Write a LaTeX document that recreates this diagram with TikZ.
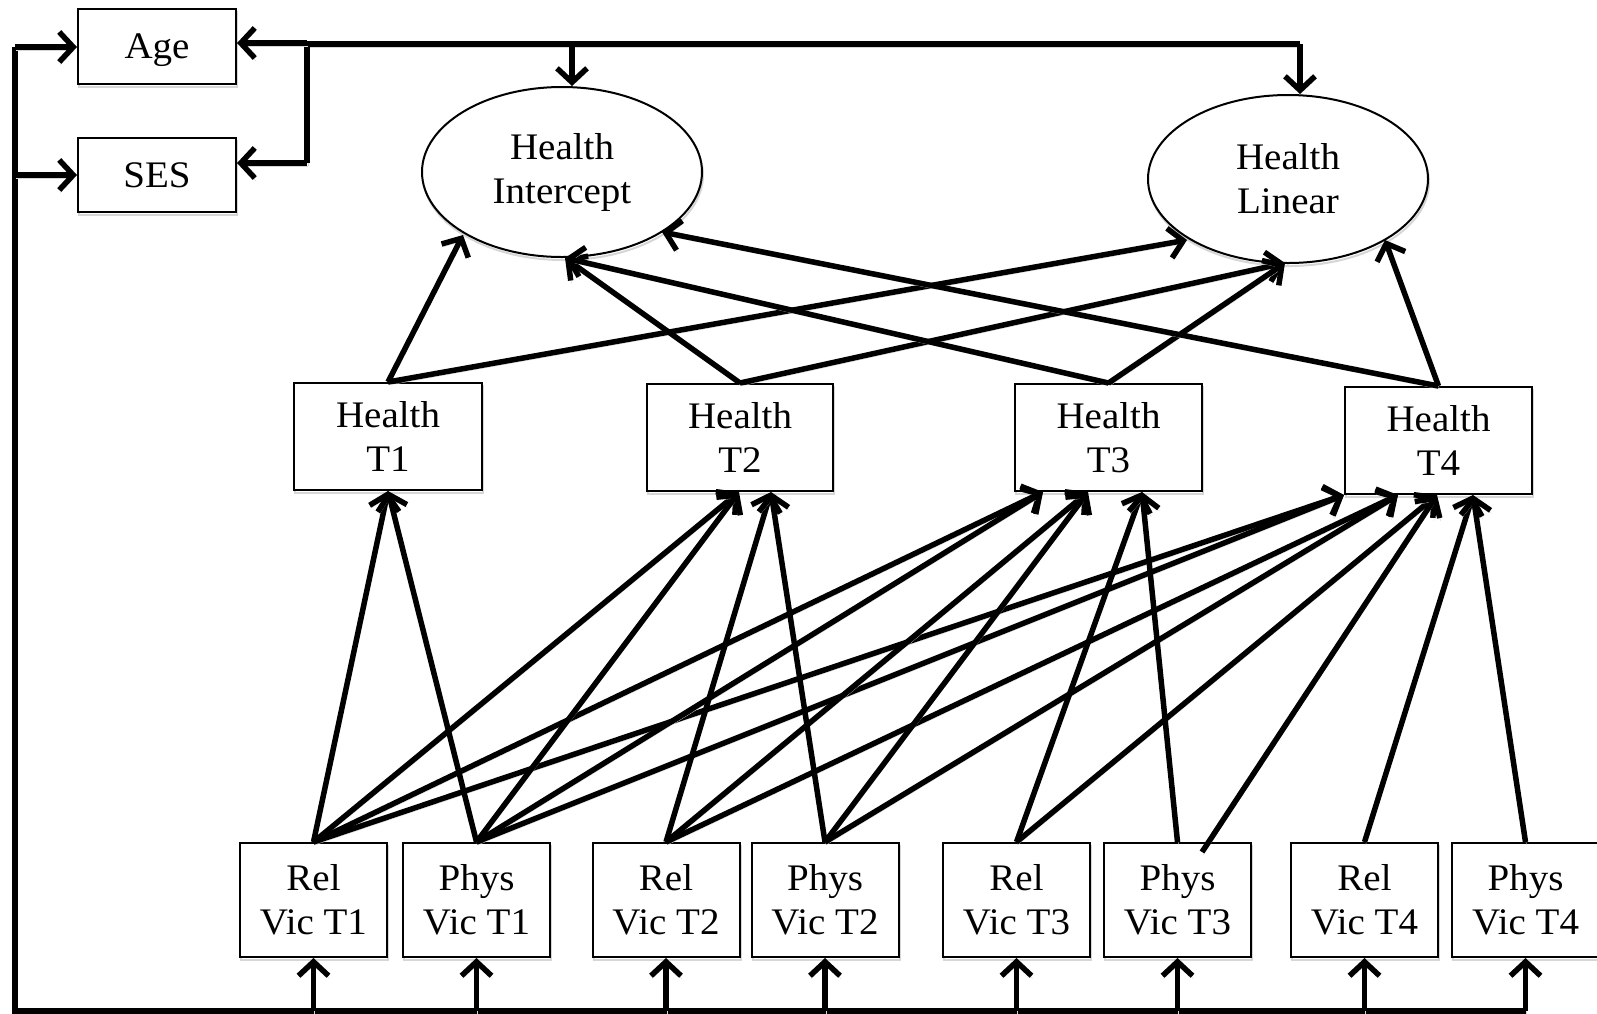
\documentclass[tikz,border=0pt]{standalone}
\usepackage{fontspec}
\setmainfont[FakeStretch=1.04]{Liberation Serif}
\usetikzlibrary{arrows.meta,calc,shapes.geometric}

\begin{document}
\begin{tikzpicture}[x=1pt,y=-1pt,
  shade/.style={preaction={draw=black!16, transform canvas={shift={(1pt,-3pt)}}}},
  lbl/.style={font=\fontsize{37.5}{44}\selectfont, align=center, inner sep=0pt},
  box/.style={lbl, rectangle, draw, line width=2pt, fill=white, shade},
  latent/.style={lbl, ellipse, draw, line width=2pt, fill=white, shade},
  wire/.style={line width=5.5pt, shade},
  arr/.style={wire, -{Straight Barb[length=14pt,width=30pt]}},
]
\useasboundingbox (0,0) rectangle (1597,1013);

% covariates
\node[box, minimum width=158pt, minimum height=75pt, text depth=0pt] (age) at (157,46) {Age};
\node[box, minimum width=158pt, minimum height=74pt] (ses) at (157,175) {SES};

% growth factors
\node[latent, minimum width=280pt, minimum height=170pt] (hint) at (562,172) {Health\\Intercept};
\node[latent, minimum width=280pt, minimum height=168pt] (hlin) at (1288,179) {Health\\Linear};

% repeated health measures
\node[box, minimum width=188pt, minimum height=107pt] (h1) at (388,436.5) {Health\\T1};
\node[box, minimum width=186pt, minimum height=107pt] (h2) at (740,437.5) {Health\\T2};
\node[box, minimum width=187pt, minimum height=107pt] (h3) at (1108.5,437.5) {Health\\T3};
\node[box, minimum width=187pt, minimum height=107pt] (h4) at (1438.5,440.5) {Health\\T4};

% victimization measures
\tikzset{vic/.style={box, minimum width=147pt, minimum height=114pt}}
\node[vic] (r1) at (313.5,900) {Rel\\Vic T1};
\node[vic] (p1) at (476.5,900) {Phys\\Vic T1};
\node[vic] (r2) at (666,900) {Rel\\Vic T2};
\node[vic] (p2) at (825,900) {Phys\\Vic T2};
\node[vic] (r3) at (1016.5,900) {Rel\\Vic T3};
\node[vic] (p3) at (1177.5,900) {Phys\\Vic T3};
\node[vic] (r4) at (1364.5,900) {Rel\\Vic T4};
\node[vic] (p4) at (1525.5,900) {Phys\\Vic T4};

% arrow landing points on the health boxes
\coordinate (h1a) at (h1.south);
\coordinate (h2a) at ($(h2.south)+(-1,0)$);
\coordinate (h2b) at ($(h2.south)+(31,0)$);
\coordinate (h3a) at ($(h3.south)+(-65.5,0)$);
\coordinate (h3b) at ($(h3.south)+(-20.5,0)$);
\coordinate (h3c) at ($(h3.south)+(33.5,0)$);
\coordinate (h4a) at (h4.south west);
\coordinate (h4b) at ($(h4.south)+(-40.5,0)$);
\coordinate (h4c) at ($(h4.south)+(-1.5,0)$);
\coordinate (h4d) at ($(h4.south)+(34.5,0)$);
\coordinate (p3x) at ($(p3.north)+(24.5,10)$);

% victimization -> health
\foreach \s/\t in {r1/h1a,r1/h2a,r1/h3a,r1/h4a,
                   p1/h1a,p1/h2a,p1/h3a,p1/h4a,
                   r2/h2b,r2/h3b,r2/h4b,
                   p2/h2b,p2/h3b,p2/h4b,
                   r3/h3c,r3/h4c,p3/h3c,
                   r4/h4d,p4/h4d}
  \draw[arr] (\s.north) -- (\t);
\draw[arr] (p3x) -- (h4c);

% health -> growth factors
\coordinate (i1) at ($(hint.center)+(-99,63)$);
\coordinate (i2) at ($(hint.center)+(3,86)$);
\coordinate (i3) at ($(hint.center)+(100,60)$);
\coordinate (l1) at ($(hlin.center)+(-101,61)$);
\coordinate (l2) at ($(hlin.center)+(-3,84)$);
\coordinate (l3) at ($(hlin.center)+(97,61)$);
\foreach \s/\t in {h1/i1,h1/l1,h2/i2,h2/l2,h3/i2,h3/l2,h4/i3,h4/l3}
  \draw[arr] (\s.north) -- (\t);

% covariate paths along the top
\coordinate (brk) at (307,43);
\coordinate (brkS) at (307,163);
\coordinate (ti) at (572,44);
\coordinate (tl) at (1300,44);
\draw[wire] (brkS) -- (brk) -- (brk |- tl) -- (tl);
\draw[arr] (brk) -- (brk -| age.east);
\draw[arr] (brkS) -- (brkS -| ses.east);
\draw[arr] (ti) -- (ti |- hint.north);
\draw[arr] (tl) -- (tl |- hlin.north);

% covariate paths along the left and bottom
\coordinate (lt) at (15,47);
\coordinate (ls) at (15,175);
\coordinate (bl) at (15,1011);
\coordinate (br) at (p4.south |- bl);
\draw[wire] (lt) -- (bl) -- (br);
\draw[arr] (lt) -- (lt -| age.west);
\draw[arr] (ls) -- (ls -| ses.west);
\foreach \b in {r1,p1,r2,p2,r3,p3,r4,p4}
  \draw[arr] (\b.south |- bl) -- (\b.south);
\end{tikzpicture}
\end{document}
